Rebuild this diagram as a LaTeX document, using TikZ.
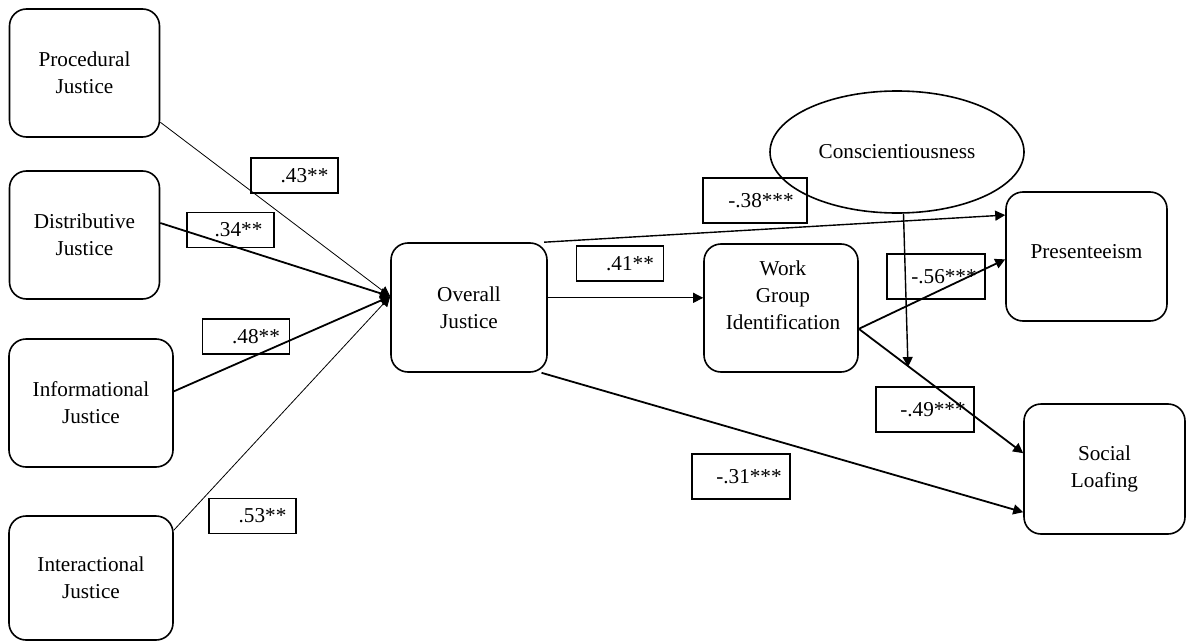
\documentclass[tikz,border=0pt]{standalone}
\usepackage{fontspec}
\setmainfont{Liberation Serif}
\usetikzlibrary{arrows.meta,shapes.geometric}
\begin{document}
\begin{tikzpicture}[x=0.5pt,y=-0.5pt,
  font=\fontsize{10.6}{13.5}\selectfont,
  jbox/.style={draw,line width=0.8pt,rounded corners=8.5pt,align=center,inner sep=0pt},
  coef/.style={draw,line width=0.9pt,inner sep=0pt,minimum width=43.5pt,minimum height=17.5pt},
  coefw/.style={coef,minimum width=49pt,minimum height=22.5pt},
  path/.style={-{Triangle[length=5pt,width=5pt]},line width=0.5pt},
  thick path/.style={path,line width=0.9pt}]
\useasboundingbox (0,0) rectangle (1187,642);
%justice dimensions
\node[jbox,minimum width=75pt,minimum height=64pt] at (84.5,73) (proc) {Procedural\\Justice};
\node[jbox,minimum width=75pt,minimum height=64pt] at (84.5,235) (dist) {Distributive\\Justice};
\node[jbox,minimum width=82pt,minimum height=64pt] at (91,403) (info) {Informational\\Justice};
\node[jbox,minimum width=82pt,minimum height=62pt] at (91,578) (inter) {Interactional\\Justice};
%mediator and outcomes
\node[jbox,minimum width=78pt,minimum height=64.5pt] at (469,307.5) (ov) {Overall\\Justice};
\node[jbox,minimum width=77pt,minimum height=64pt] at (781,308) (wgi) {};
\node[align=center] at (783,295) (wgilab) {Work\\Group\\Identification};
\node[jbox,minimum width=80.5pt,minimum height=64.5pt] at (1086.5,256.5) (pres) {Presenteeism\\[-8pt]};
\node[jbox,minimum width=80.5pt,minimum height=65pt] at (1104.5,469) (soc) {Social\\Loafing};
\node[draw,line width=0.8pt,ellipse,minimum width=127pt,minimum height=61pt,inner sep=0pt] at (897,152) (consc) {Conscientiousness\\[4pt]};
\coordinate (cend) at (908,367);
%paths
\draw[path,line width=0.4pt] (proc.-33) -- (ov.172);
\draw[thick path] (dist.9) -- (ov.172);
\draw[thick path] (info.8) -- (ov.172);
\draw[path,line width=0.4pt] (inter.30) -- (ov.172);
\draw[path] (ov.7) -- (ov.7 -| wgi.west);
\draw[path,line width=0.7pt] (ov.41) -- (pres.153);
\draw[thick path] (ov.-42) -- (soc.-152);
\draw[thick path] (wgi.-15) -- (pres.182);
\draw[thick path] (wgi.-15) -- (soc.169);
\draw[path,line width=0.7pt] (consc.-84) -- (cend);
%coefficients
\node[coef] at (294.5,175.5) (c1) {\hspace*{10pt}.43**};
\node[coef] at (230.5,230) (c2) {\hspace*{8pt}.34**};
\node[coef] at (246,336.5) (c3) {\hspace*{10pt}.48**};
\node[coef] at (252.5,516) (c4) {\hspace*{10pt}.53**};
\node[coef] at (620,263.5) (c5) {\hspace*{10pt}.41**};
\node[coefw,minimum width=52pt] at (755,200.5) (c6) {\hspace*{6pt}-.38***};
\node[coefw] at (936,276.5) (c7) {\hspace*{8pt}-.56***};
\node[coefw] at (925,409.5) (c8) {\hspace*{8pt}-.49***};
\node[coefw] at (741,476.5) (c9) {\hspace*{8pt}-.31***};
\end{tikzpicture}
\end{document}
